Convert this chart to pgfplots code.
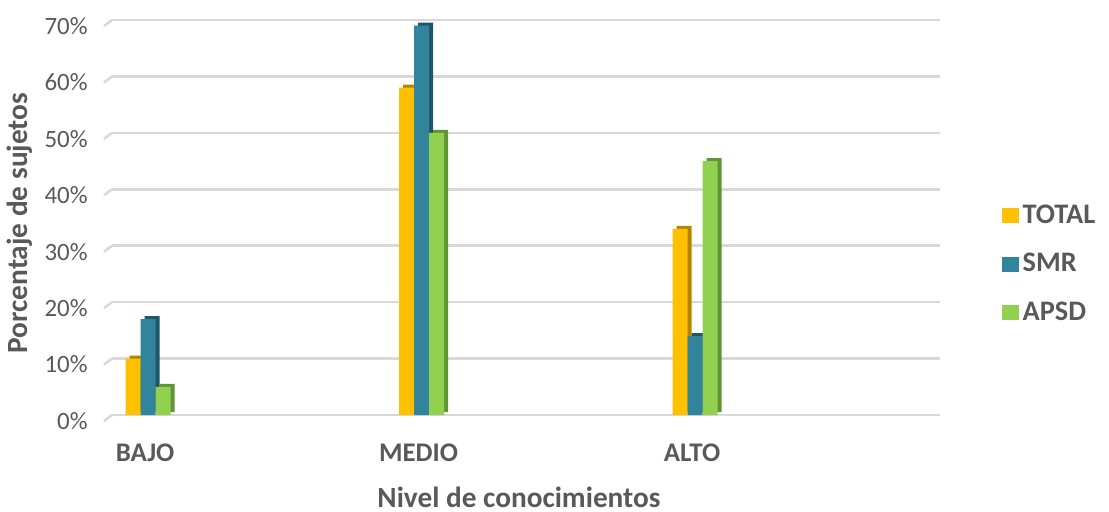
\documentclass[border=0pt]{standalone}
\usepackage{pgfplots}
\pgfplotsset{compat=1.18}
\usepackage{pgfplotstable}
\usepackage{fontspec}
\setmainfont{Carlito}
\definecolor{cTotal}{HTML}{FFC000}
\definecolor{cTotalD}{HTML}{B38600}
\definecolor{cSmr}{HTML}{31849B}
\definecolor{cSmrD}{HTML}{1F566A}
\definecolor{cApsd}{HTML}{92D050}
\definecolor{cApsdD}{HTML}{5F9438}
\definecolor{txt}{HTML}{595959}
\definecolor{gridc}{HTML}{D9D9D9}
\pgfplotstableread{
x total smr apsd
0 10 17 5
1 58 69 50
2 33 14 45
}\data
\begin{document}
\begin{tikzpicture}
\begin{axis}[
  scale only axis, width=414bp, height=197.5bp,
  xmin=-0.132, xmax=2.896, ymin=0, ymax=70,
  ybar=0pt, bar width=7.5bp,
  xtick={0,1,2}, xticklabels={BAJO,MEDIO,ALTO},
  ytick={0,10,...,70},
  yticklabels={0\%,10\%,20\%,30\%,40\%,50\%,60\%,70\%},
  axis line style={draw=none}, major tick length=0pt,
  ymajorgrids, grid style={line width=1.3bp, color=gridc},
  yticklabel style={font=\fontsize{12.5}{14}\selectfont, text=txt, anchor=east, inner sep=0pt, xshift=-12bp, yshift=-3bp},
  xticklabel style={font=\fontsize{13.5}{15}\selectfont\bfseries, text=txt, anchor=center, yshift=-19bp, xshift=-1.5bp},
  ylabel={Porcentaje de sujetos},
  ylabel style={font=\fontsize{14.7}{16}\selectfont\bfseries, text=txt, at={(rel axis cs:-0.111,0.486)}, anchor=center},
  xlabel={Nivel de conocimientos},
  xlabel style={font=\fontsize{14.7}{16}\selectfont\bfseries, text=txt, at={(rel axis cs:0.4915,0)}, anchor=center, yshift=-41bp},
  legend style={draw=none, fill=none, at={(rel axis cs:1.074,0.382)}, anchor=west,
    font=\fontsize{14.2}{16}\selectfont\bfseries, text=txt, row sep=9.5bp, inner sep=0pt},
  legend cell align=left,
  legend image code/.code={\fill[#1] (0bp,-3.75bp) rectangle (8.5bp,3.75bp);},
  clip=false,
]
\addplot[fill=cTotalD, draw=none, bar shift=-5.5bp, yshift=1.5bp, forget plot] table[x=x,y=total]{\data};
\addplot[fill=cTotal, draw=none, bar shift=-7.5bp] table[x=x,y=total]{\data};
\addlegendentry{TOTAL}
\addplot[fill=cSmrD, draw=none, bar shift=2bp, yshift=1.5bp, forget plot] table[x=x,y=smr]{\data};
\addplot[fill=cSmr, draw=none, bar shift=0bp] table[x=x,y=smr]{\data};
\addlegendentry{SMR}
\addplot[fill=cApsdD, draw=none, bar shift=9.5bp, yshift=1.5bp, forget plot] table[x=x,y=apsd]{\data};
\addplot[fill=cApsd, draw=none, bar shift=7.5bp] table[x=x,y=apsd]{\data};
\addlegendentry{APSD}
\pgfplotsinvokeforeach{0,10,20,30,40,50,60,70}{
  \draw[gridc, line width=1.3bp] (axis cs:-0.132,#1) -- ++(-4bp,-3bp);
}
\end{axis}
\pgfresetboundingbox
\path (-56bp,-48.5bp) rectangle (498.5bp,207.5bp);
\end{tikzpicture}
\end{document}
